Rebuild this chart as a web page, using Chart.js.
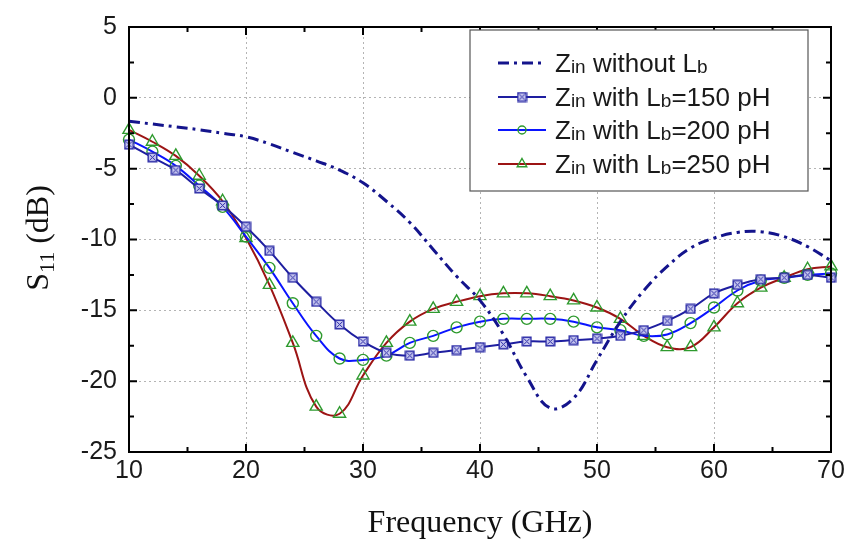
<!DOCTYPE html>
<html>
<head>
<meta charset="utf-8">
<script src="https://cdn.jsdelivr.net/npm/chart.js@4.4.0/dist/chart.umd.min.js"></script>
<style>
  html, body { margin: 0; padding: 0; background: #fff; }
  #wrap { width: 849px; height: 543px; }
</style>
</head>
<body>
<div id="wrap"><canvas id="s11Chart" width="849" height="543"></canvas></div>
<script>
// frequency points (GHz) - one marker every 2 GHz
const freq = [10, 12, 14, 16, 18, 20, 22, 24, 26, 28, 30, 32, 34, 36, 38, 40,
              42, 44, 46, 48, 50, 52, 54, 56, 58, 60, 62, 64, 66, 68, 70];

// S11 (dB)
const noLb = [-1.65, -1.85, -2.05, -2.25, -2.5, -2.75, -3.25, -3.85, -4.45, -5.1,
              -6.0, -7.3, -8.8, -10.7, -12.6, -14.3, -16.7, -19.7, -21.9, -21.2,
              -18.5, -15.8, -13.6, -11.9, -10.6, -9.9, -9.5, -9.45, -9.8, -10.5, -11.5];
const lb150 = [-3.3, -4.2, -5.1, -6.4, -7.6, -9.1, -10.8, -12.7, -14.4, -16.0,
               -17.2, -18.0, -18.2, -18.0, -17.8, -17.6, -17.4, -17.2, -17.2, -17.1,
               -17.0, -16.8, -16.4, -15.75, -14.9, -13.8, -13.2, -12.8, -12.7, -12.5, -12.7];
const lb200 = [-2.95, -3.8, -4.8, -6.2, -7.7, -9.8, -12.0, -14.5, -16.8, -18.4,
               -18.5, -18.2, -17.3, -16.8, -16.2, -15.8, -15.6, -15.6, -15.6, -15.8,
               -16.2, -16.4, -16.8, -16.7, -15.9, -14.8, -13.6, -12.9, -12.7, -12.5, -12.4];
const lb250 = [-2.26, -3.1, -4.1, -5.5, -7.3, -9.9, -13.2, -17.3, -21.8, -22.3,
               -19.6, -17.3, -15.8, -14.9, -14.4, -14.0, -13.8, -13.8, -14.0, -14.3,
               -14.8, -15.6, -16.8, -17.6, -17.6, -16.2, -14.5, -13.4, -12.7, -12.1, -11.9];

const xTicks = [10, 20, 30, 40, 50, 60, 70];
const yTicks = [5, 0, -5, -10, -15, -20, -25];

const seriesNames = [
    [['Z', 0], ['in', 1], [' without L', 0], ['b', 1]],
    [['Z', 0], ['in', 1], [' with L', 0], ['b', 1], ['=150 pH', 0]],
    [['Z', 0], ['in', 1], [' with L', 0], ['b', 1], ['=200 pH', 0]],
    [['Z', 0], ['in', 1], [' with L', 0], ['b', 1], ['=250 pH', 0]]
];

const SANS = '"Liberation Sans", Arial, sans-serif';
const SERIF = '"Liberation Serif", "Times New Roman", serif';

// square marker with a cross inside
function squareMarker() {
    const c = document.createElement('canvas');
    c.width = 11; c.height = 11;
    const g = c.getContext('2d');
    g.fillStyle = '#c4c4ee';
    g.fillRect(1, 1, 9, 9);
    g.strokeStyle = '#2a2aa6';
    g.lineWidth = 1.4;
    g.strokeRect(1.2, 1.2, 8.6, 8.6);
    g.lineWidth = 1;
    g.beginPath();
    g.moveTo(2.5, 2.5); g.lineTo(8.5, 8.5);
    g.moveTo(8.5, 2.5); g.lineTo(2.5, 8.5);
    g.stroke();
    return c;
}
const sqImg = squareMarker();

const toXY = (ys) => freq.map((f, i) => ({ x: f, y: ys[i] }));

const datasets = [
    {
        data: toXY(noLb), borderColor: '#14148c', borderWidth: 3,
        borderDash: [11, 5, 3, 5], pointRadius: 0, tension: 0.4
    },
    {
        data: toXY(lb150), borderColor: '#1e1ea0', borderWidth: 2,
        pointStyle: sqImg, pointRadius: 5, tension: 0.4
    },
    {
        data: toXY(lb200), borderColor: '#0a14ff', borderWidth: 2,
        pointStyle: 'circle', pointRadius: 5.5, pointBorderColor: '#2e9a2e',
        pointBackgroundColor: 'rgba(0,0,0,0)', pointBorderWidth: 1.4, tension: 0.4
    },
    {
        data: toXY(lb250), borderColor: '#9c1414', borderWidth: 2,
        pointStyle: 'triangle', pointRadius: 7, pointBorderColor: '#2e9a2e',
        pointBackgroundColor: 'rgba(0,0,0,0)', pointBorderWidth: 1.4, tension: 0.4
    }
];
datasets.forEach(d => { d.fill = false; d.clip = false; });

function richText(ctx, parts, x, y, big, small, family, subDrop) {
    let cx = x;
    parts.forEach(([t, sub]) => {
        ctx.font = (sub ? small : big) + 'px ' + family;
        ctx.fillText(t, cx, y + (sub ? subDrop : 0));
        cx += ctx.measureText(t).width;
    });
    return cx - x;
}
function richWidth(ctx, parts, big, small, family) {
    let w = 0;
    parts.forEach(([t, sub]) => {
        ctx.font = (sub ? small : big) + 'px ' + family;
        w += ctx.measureText(t).width;
    });
    return w;
}

const decor = {
    id: 'decor',
    afterDatasetsDraw(chart) {
        const ctx = chart.ctx;
        const a = chart.chartArea;
        const xs = chart.scales.x, ys = chart.scales.y;
        ctx.save();

        // frame
        ctx.strokeStyle = '#000';
        ctx.lineWidth = 2;
        ctx.strokeRect(a.left, a.top, a.right - a.left, a.bottom - a.top);

        // inward ticks
        ctx.lineWidth = 2;
        ctx.beginPath();
        for (let v = 10; v <= 70; v += 5) {
            const px = xs.getPixelForValue(v);
            const len = v % 10 === 0 ? 8 : 5;
            ctx.moveTo(px, a.bottom); ctx.lineTo(px, a.bottom - len);
            ctx.moveTo(px, a.top); ctx.lineTo(px, a.top + len);
        }
        for (let v = -25; v <= 5; v += 2.5) {
            const py = ys.getPixelForValue(v);
            const len = v % 5 === 0 ? 8 : 5;
            ctx.moveTo(a.left, py); ctx.lineTo(a.left + len, py);
            ctx.moveTo(a.right, py); ctx.lineTo(a.right - len, py);
        }
        ctx.stroke();

        // legend
        const bx = 470, by = 30, bw = 338, bh = 161;
        ctx.fillStyle = '#fff';
        ctx.fillRect(bx, by, bw, bh);
        ctx.strokeStyle = '#555';
        ctx.lineWidth = 1.2;
        ctx.strokeRect(bx, by, bw, bh);
        const rows = [63, 97, 130, 164];
        chart.data.datasets.forEach((ds, i) => {
            const ry = rows[i];
            ctx.save();
            ctx.strokeStyle = ds.borderColor;
            ctx.lineWidth = ds.borderWidth;
            ctx.setLineDash(ds.borderDash || []);
            ctx.beginPath();
            ctx.moveTo(498, ry); ctx.lineTo(546, ry);
            ctx.stroke();
            ctx.restore();
            if (ds.pointRadius) {
                ctx.save();
                ctx.strokeStyle = ds.pointBorderColor || ds.borderColor;
                ctx.fillStyle = 'rgba(0,0,0,0)';
                ctx.lineWidth = ds.pointBorderWidth || 1;
                Chart.helpers.drawPoint(ctx, {
                    pointStyle: ds.pointStyle, radius: ds.pointRadius - 1.5, rotation: 0,
                    borderWidth: ds.pointBorderWidth || 1
                }, 522, ry);
                ctx.restore();
            }
            ctx.fillStyle = '#1a1a1a';
            ctx.textBaseline = 'alphabetic';
            ctx.textAlign = 'left';
            richText(ctx, seriesNames[i], 555, ry + 9, 26, 19, SANS, 1);
        });

        // axis titles
        ctx.fillStyle = '#111';
        ctx.textBaseline = 'alphabetic';
        ctx.textAlign = 'left';
        ctx.font = '32px ' + SERIF;
        const xt = 'Frequency (GHz)';
        const xw = ctx.measureText(xt).width;
        ctx.fillText(xt, (a.left + a.right) / 2 - xw / 2, 532);

        const yParts = [['S', 0], ['11', 1], [' (dB)', 0]];
        const yw = richWidth(ctx, yParts, 32, 22, SERIF);
        ctx.translate(48, 238);
        ctx.rotate(-Math.PI / 2);
        richText(ctx, yParts, -yw / 2, 0, 32, 22, SERIF, 6);

        ctx.restore();
    }
};

const ctx = document.getElementById('s11Chart').getContext('2d');
new Chart(ctx, {
    type: 'line',
    data: { datasets: datasets },
    options: {
        responsive: false,
        animation: false,
        events: [],
        layout: { padding: { top: 14, right: 18, left: 0, bottom: 0 } },
        plugins: { legend: { display: false }, tooltip: { enabled: false } },
        scales: {
            x: {
                type: 'linear', min: 10, max: 70,
                afterFit: (s) => { s.height = 91; },
                afterBuildTicks: (s) => { s.ticks = xTicks.map(v => ({ value: v })); },
                grid: { color: '#b4b4b4', lineWidth: 1, drawTicks: false },
                border: { display: false, dash: [2, 3] },
                ticks: { font: { family: SANS, size: 25 }, color: '#1a1a1a', padding: 4, maxRotation: 0 }
            },
            y: {
                type: 'linear', min: -25, max: 5,
                afterFit: (s) => { s.width = 129; },
                afterBuildTicks: (s) => { s.ticks = yTicks.map(v => ({ value: v })); },
                grid: { color: '#b4b4b4', lineWidth: 1, drawTicks: false },
                border: { display: false, dash: [2, 3] },
                ticks: { font: { family: SANS, size: 25 }, color: '#1a1a1a', padding: 12 }
            }
        }
    },
    plugins: [decor]
});
</script>
</body>
</html>
